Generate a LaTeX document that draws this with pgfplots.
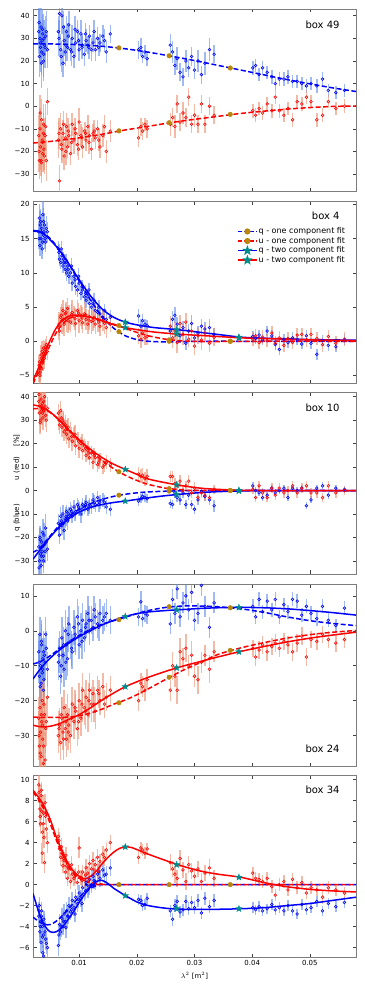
\documentclass[border=0pt]{standalone}
\usepackage{fontspec}
\setmainfont{DejaVu Sans}
\usepackage{pgfplots}
\usepackage{pgfplotstable}
\pgfplotsset{compat=1.18}

\definecolor{errblue}{RGB}{100,140,235}
\definecolor{errred}{RGB}{235,140,110}
\definecolor{gold}{RGB}{184,134,11}
\definecolor{teal2}{RGB}{0,139,139}
\definecolor{framegray}{RGB}{125,125,125}

% filled five-pointed star
\pgfdeclareplotmark{fstar}{%
  \pgfpathmoveto{\pgfqpointpolar{90}{\pgfplotmarksize}}%
  \pgfpathlineto{\pgfqpointpolar{126}{0.42\pgfplotmarksize}}%
  \pgfpathlineto{\pgfqpointpolar{162}{\pgfplotmarksize}}%
  \pgfpathlineto{\pgfqpointpolar{198}{0.42\pgfplotmarksize}}%
  \pgfpathlineto{\pgfqpointpolar{234}{\pgfplotmarksize}}%
  \pgfpathlineto{\pgfqpointpolar{270}{0.42\pgfplotmarksize}}%
  \pgfpathlineto{\pgfqpointpolar{306}{\pgfplotmarksize}}%
  \pgfpathlineto{\pgfqpointpolar{342}{0.42\pgfplotmarksize}}%
  \pgfpathlineto{\pgfqpointpolar{18}{\pgfplotmarksize}}%
  \pgfpathlineto{\pgfqpointpolar{54}{0.42\pgfplotmarksize}}%
  \pgfpathclose
  \pgfusepathqfillstroke}

\newcommand{\myytick}{\pgfmathtruncatemacro\tv{round(\tick)}\ifnum\tv<0 \char"2212\pgfmathtruncatemacro\tv{abs(\tv)}\fi\tv}

\tikzset{boxlab/.style={font=\fontsize{10}{12}\selectfont}}

\pgfplotsset{
  panel/.style={width=323pt, height=182pt, scale only axis, anchor=north west,
    xmin=0.002, xmax=0.058, xtick={0.01,0.02,0.03,0.04,0.05}, xticklabels={},
    scaled x ticks=false, scaled y ticks=false,
    axis line style={framegray, line width=0.8pt},
    tick style={black!75, line width=0.6pt}, major tick length=3.5pt,
    tick label style={font=\fontsize{7}{8}\selectfont},
    yticklabel={\myytick}},
  qdata/.style={only marks, mark=o, mark size=1.4pt, blue, mark options={line width=0.55pt},
    error bars/y dir=both, error bars/y explicit, error bars/error mark=none,
    error bars/error bar style={line width=1.5pt, errblue, opacity=0.6}},
  udata/.style={only marks, mark=o, mark size=1.4pt, red, mark options={line width=0.55pt},
    error bars/y dir=both, error bars/y explicit, error bars/error mark=none,
    error bars/error bar style={line width=1.5pt, errred, opacity=0.6}},
  qone/.style={blue, line width=1.5pt, dash pattern=on 5pt off 2.5pt, smooth, no marks},
  uone/.style={red, line width=1.5pt, dash pattern=on 5pt off 2.5pt, smooth, no marks},
  qtwo/.style={blue, line width=1.5pt, smooth, no marks},
  utwo/.style={red, line width=1.5pt, smooth, no marks},
  goldm/.style={only marks, mark=*, mark size=2.3pt, gold},
  starm/.style={only marks, mark=fstar, mark size=3.3pt, teal2}
}

% box 49
\pgfplotstableread{
x q qe u ue
0.0030 33 10 -13 9
0.0031 22 9 -24 8
0.0032 30 8 -10 9
0.0033 26 11 -18 10
0.0034 35 9 -24 7
0.0035 24 10 -6 9
0.0036 29 8 -15 8
0.0037 32 9 -21 8
0.0038 20 9 -12 9
0.0040 27 8 -22 8
0.0042 31 9 -9 10
0.0045 25 8 2 6
0.0064 33 7 -15 8
0.0066 41 9 -33 7
0.0068 25 7 -10 7
0.0070 40 8 -19 6
0.0072 19 6 -12 6
0.0074 29 7 -22 6
0.0076 24 6 -14 6
0.0078 33 7 -9 6
0.0080 26 6 -18 5
0.0082 36 6 -13 5
0.0085 25 5 -21 5
0.0088 30 6 -8 5
0.0091 22 5 -15 6
0.0094 28 6 -12 5
0.0097 33 5 -17 5
0.0100 25 5 -7 6
0.0103 32 6 -13 5
0.0106 27 5 -18 5
0.0109 23 5 -11 4
0.0112 29 5 -15 5
0.0115 27 4 -9 5
0.0118 31 5 -13 5
0.0121 25 5 -19 5
0.0124 28 4 -12 4
0.0128 25 5 -14 5
0.0132 30 5 -10 4
0.0136 28 4 -18 5
0.0141 31 5 -13 5
0.0147 24 5 -20 5
0.0154 32 4 -11 5
0.0203 25 4 -14 4
0.0207 26 4 -9 4
0.0210 22 3 -11 4
0.0214 24 3 -8 3
0.0218 21 3 -10 4
0.0258 27 5 -8 5
0.0262 24 5 -5 4
0.0266 18 4 -9 5
0.0270 21 5 1 4
0.0275 15 4 -7 4
0.0280 13 4 -3 5
0.0285 20 5 -5 4
0.0290 17 4 4 4
0.0295 22 4 -8 4
0.0300 16 4 -4 5
0.0306 20 5 -8 4
0.0312 14 4 1 4
0.0318 19 5 -8 4
0.0326 25 5 0 4
0.0334 23 4 -4 4
0.0401 17 3 -2 3
0.0406 18 3 -4 3
0.0412 14 3 -1 3
0.0418 17 3 -3 3
0.0426 15 3 1 3
0.0434 13 3 -2 3
0.0440 10 3 4 3
0.0447 12 3 -2 3
0.0455 12 3 -4 3
0.0462 13 3 -1 3
0.0470 11 3 -6 3
0.0478 11 3 2 3
0.0486 10 3 1 3
0.0494 9 3 4 3
0.0502 10 3 2 3
0.0512 9 3 -6 3
0.0522 12 3 -4 3
0.0532 7 3 2 3
0.0545 6 3 -1 3
0.0560 7 3 0 3
0.00305 37 10 -20 9
0.00325 28 9 -3 8
0.00345 19 11 -25 9
0.00365 34 9 -16 8
0.00385 23 10 -8 9
0.0039 30 8 -19 9
0.0041 26 9 -13 8
0.0043 33 9 -24 9
0.0065 30 8 -12 7
0.0069 22 7 -17 7
0.0073 35 7 -8 6
0.0077 27 7 -20 6
0.0081 31 6 -11 6
0.0087 24 6 -16 5
0.0093 34 6 -10 5
0.0099 29 5 -19 5
0.0105 26 5 -14 5
0.0111 32 5 -12 5
0.0117 26 5 -16 5
0.0126 33 5 -11 5
0.0134 26 4 -15 5
0.0144 29 5 -9 5
}\tA

% box 4
\pgfplotstableread{
x q qe u ue
0.0030 16 1.5 -4.5 1.5
0.0031 18 2 -3 1.2
0.0032 14 1.5 -5 1.5
0.0033 17.5 1.8 -3.8 1.3
0.0034 15 1.5 -2 1.5
0.0035 16.5 2 -4 1.2
0.0036 13.5 1.5 -1.5 1.5
0.0037 18.5 2 -3 1.3
0.0038 15.5 1.5 -1 1.2
0.0040 17 1.8 -2.5 1.5
0.0042 14.5 1.5 -0.8 1.2
0.0045 16 1.5 -1.5 1.2
0.0064 13.5 1.2 2.0 1.8
0.0066 12 1 1.5 2
0.0068 11.5 1 3.5 1.5
0.0070 12.5 1.2 3.0 2
0.0072 11 1 4.5 1.5
0.0074 11.5 1.2 2.5 1.8
0.0076 10.5 1 4.0 1.5
0.0078 10 1.2 3.2 1.8
0.0080 11 1 4.8 1.5
0.0082 9.5 1.2 3.5 1.8
0.0085 10 1 2.8 1.5
0.0088 8.5 1.2 4.2 1.8
0.0091 9.5 1 3.6 1.5
0.0094 8 1.2 2.6 2
0.0097 7.5 1 4.5 1.5
0.0100 8.5 1.2 3.0 1.8
0.0103 7 1 3.8 1.5
0.0106 7.5 1.2 2.7 1.5
0.0109 6.5 1 4.0 1.8
0.0112 6 1.2 3.2 1.5
0.0115 6.5 1 2.5 1.5
0.0118 5.5 1 3.6 1.5
0.0121 5 1.2 2.9 1.8
0.0124 5.5 1 3.0 1.5
0.0128 4.5 1.2 2.5 1.5
0.0132 4.2 1 3.2 1.8
0.0136 4 1.2 2.2 1.5
0.0141 3.5 1 3.0 1.5
0.0147 3.2 1 2.0 1.5
0.0154 3.5 1 2.5 1.2
0.0203 3.7 1 0.8 1.2
0.0207 2.2 1 0.3 1.3
0.0210 3.0 1 1.2 1.2
0.0214 2.5 0.8 0.5 1
0.0218 2.3 0.8 0.7 1.2
0.0258 1.5 1 2.2 1.5
0.0262 3.2 1.2 0.5 1.5
0.0266 3.8 1.2 1.5 1.3
0.0270 2.5 1 -0.2 1.5
0.0275 0.8 1 2.6 1.2
0.0280 2.0 1 1.0 1.5
0.0285 -0.3 1 2.8 1.3
0.0290 1.5 1 0.3 1.2
0.0295 2.6 1.2 1.5 1.5
0.0300 0.5 1 -0.7 1.3
0.0306 1.2 1 0.8 1.2
0.0312 2.2 1 0.2 1.5
0.0318 1.8 1 1.2 1.2
0.0326 2.0 1.2 -0.3 1.2
0.0334 1.0 1 0.6 1.3
0.0401 0.7 0.8 0.3 1
0.0406 0.4 0.8 0.8 1
0.0412 0.9 0.8 -0.2 1
0.0418 0.2 0.8 0.6 1
0.0426 1.5 0.8 0.1 1
0.0434 0.8 0.8 1.2 1
0.0440 -0.5 0.8 -0.3 1
0.0447 -1.2 0.8 0.5 1
0.0455 0.3 0.8 -0.6 1
0.0462 -0.2 0.8 0.4 1
0.0470 0.5 0.8 -0.2 1
0.0478 0.2 0.8 0.9 1
0.0486 -0.4 0.8 1.0 1
0.0494 0.8 0.8 0.2 1
0.0502 -0.3 0.8 1.0 1
0.0512 -1.9 0.8 0.4 1
0.0522 0.1 0.8 -0.5 1
0.0532 -0.6 0.8 0.7 1
0.0545 -0.8 0.8 -0.3 1
0.0560 0.2 0.8 0.3 1
0.00305 15 1.5 -3.5 1.5
0.00325 17 2 -4.5 1.3
0.00345 16 1.5 -2.5 1.5
0.00365 14.5 1.8 -3.2 1.2
0.00385 17.5 2 -1.8 1.4
0.0039 16 1.5 -2.2 1.3
0.0041 15 1.5 -1.2 1.2
0.0043 16.5 1.8 -0.5 1.3
0.0065 13 1.2 2.5 1.8
0.0069 13.5 1.2 3.8 1.6
0.0073 12 1 3.2 1.8
0.0077 11.5 1.2 4.2 1.5
0.0081 10.5 1 3.0 1.8
0.0087 11 1.2 3.9 1.5
0.0093 9 1 3.3 1.6
0.0099 9.5 1.2 4.1 1.5
0.0105 8 1 3.4 1.6
0.0111 7 1.2 3.9 1.5
0.0117 7.5 1 3.1 1.5
0.0126 6 1 3.5 1.5
0.0134 5 1 2.8 1.5
0.0144 4.5 1 2.6 1.5
}\tB

% box 10
\pgfplotstableread{
x q qe u ue
0.0030 -24 5 38 5
0.0031 -30 6 33 5
0.0032 -20 5 36 6
0.0033 -27 5 30 5
0.0034 -32 6 39 5
0.0035 -22 5 34 6
0.0036 -26 5 37 5
0.0037 -18 6 31 5
0.0038 -28 5 35 5
0.0040 -23 5 40 6
0.0042 -16 6 32 5
0.0045 -25 5 35 5
0.0064 -14 4 33 4
0.0066 -19 4 28 4
0.0068 -11 4 34 4
0.0070 -15 4 27 4
0.0072 -10 4 30 4
0.0074 -17 4 25 4
0.0076 -12 4 28 4
0.0078 -9 3 24 4
0.0080 -13 4 26 4
0.0082 -10 3 22 4
0.0085 -8 3 25 4
0.0088 -11 3 21 4
0.0091 -7 3 23 4
0.0094 -9 3 19 4
0.0097 -6 3 22 3
0.0100 -8 3 18 4
0.0103 -10 4 20 3
0.0106 -6 3 17 4
0.0109 -7 3 19 3
0.0112 -5 3 15 3
0.0115 -8 3 17 4
0.0118 -6 3 14 3
0.0121 -7 3 16 3
0.0124 -4 3 12 3
0.0128 -6 3 14 3
0.0132 -3 3 11 3
0.0136 -5 3 13 3
0.0141 -4 3 10 3
0.0147 -7 3 12 3
0.0154 -8 3 11 3
0.0203 -4.5 2 7 3
0.0207 -3.5 2 6 3
0.0210 -2.5 2 6.5 3
0.0214 -3 2 5 3
0.0218 -3.5 2 6 3
0.0258 -5.5 2 6 2.5
0.0262 -6 2 6 2.5
0.0266 -1 2 3 2.5
0.0270 -3 2 2 2
0.0275 -4 2 4 2.5
0.0280 -1 2 0 2.5
0.0285 -6 2 2 2
0.0290 -2 2 4 2.5
0.0295 -6 2 -1 2
0.0300 -8 2 1 2.5
0.0306 -4 2 -3 2
0.0312 -0.5 2 -1 2
0.0318 -2.5 2 -2 2.5
0.0326 -4 2 -3 2
0.0334 -6.5 2.5 0.5 2
0.0401 2 1.5 0.5 2
0.0406 0 1.5 -3 2
0.0412 -1 1.5 2 2
0.0418 -3 1.5 -1 2
0.0426 -2 1.5 -3 2
0.0434 1 1.5 1 2
0.0440 -1 1.5 -2 2
0.0447 0 1.5 1 2
0.0455 1 1.5 -1 2
0.0462 -3 1.5 0 2
0.0470 1 1.5 2 2
0.0478 0 1.5 -1 2
0.0486 1 1.5 1 2
0.0494 -6.5 1.5 2 2
0.0502 -4 1.5 -1 2
0.0512 1 1.5 -1 2
0.0522 2 1.5 -3 2
0.0532 -2 1.5 2 2
0.0545 1 1.5 -1 2
0.0560 0.5 1.5 0 2
0.00305 -33 6 41 5
0.00325 -21 5 29 5
0.00345 -28 5 36 6
0.00365 -24 6 33 5
0.00385 -30 5 38 5
0.0039 -19 5 34 5
0.0041 -26 5 36 6
0.0043 -22 5 30 5
0.0065 -16 4 30 4
0.0069 -13 4 31 4
0.0073 -14 4 29 4
0.0077 -11 4 26 4
0.0081 -11 3 27 4
0.0087 -9 3 23 4
0.0093 -10 3 24 4
0.0099 -7 3 21 4
0.0105 -8 3 21 3
0.0111 -6 3 18 3
0.0117 -7 3 16 3
0.0126 -5 3 15 3
0.0134 -6 3 12 3
0.0144 -5 3 11 3
}\tC

% box 24
\pgfplotstableread{
x q qe u ue
0.0030 -6 5 -25 6
0.0031 -13 6 -33 7
0.0032 -1 5 -22 6
0.0033 -10 6 -29 8
0.0034 -15 5 -36 7
0.0035 -4 6 -26 7
0.0036 -12 5 -20 6
0.0037 -8 6 -31 8
0.0038 -17 5 -38 7
0.0040 -7 5 -24 6
0.0042 -1 5 -28 7
0.0045 -11 5 -19 6
0.0064 -9 5 -30 5
0.0066 -5 5 -27 5
0.0068 -13 5 -32 5
0.0070 -2 6 -25 6
0.0072 -7 5 -29 5
0.0074 -11 5 -22 5
0.0076 0 6 -28 5
0.0078 -4 5 -31 5
0.0080 -8 5 -24 6
0.0082 2 5 -27 5
0.0085 -3 5 -30 5
0.0088 -6 5 -21 5
0.0091 1 5 -26 5
0.0094 -2 5 -23 5
0.0097 4 5 -28 5
0.0100 -4 4 -20 5
0.0103 0 5 -25 5
0.0106 3 5 -17 5
0.0109 -2 4 -22 5
0.0112 2 4 -19 5
0.0115 5 5 -24 5
0.0118 0 4 -17 5
0.0121 3 4 -21 5
0.0124 1 4 -18 4
0.0128 4 4 -23 5
0.0132 2 4 -17 4
0.0136 5 4 -20 4
0.0141 3 4 -16 4
0.0147 5 4 -19 4
0.0154 3 4 -17 4
0.0203 4 2.5 -20 3
0.0207 8.3 3 -15 3
0.0210 3.5 2.5 -16 3
0.0214 5 2.5 -17 3
0.0218 4.5 2.5 -14 3
0.0258 2 3 -17 3
0.0262 9 3 -10 4
0.0266 5 3 -13 3
0.0270 12 3 -17 4
0.0275 4 3 -6 4
0.0280 8 3 -8 3
0.0285 10 3 -5 4
0.0290 6 3 -10 3
0.0295 11 3 -7 4
0.0300 3 3 -13 3
0.0306 5 3 -14 4
0.0312 13 3 -9 3
0.0318 7 3 -7 3
0.0326 1 3 -11 4
0.0334 8 3 -6 3
0.0401 7 2 -5 2.5
0.0406 4 2 -7.5 2.5
0.0412 9 2 -5.5 2.5
0.0418 5.5 2 -4 2.5
0.0426 8.5 2 -6 2.5
0.0434 6 2 -4.5 2.5
0.0440 9 2 -3.5 2.5
0.0447 4 2 -5 2.5
0.0455 7.5 2 -3 2.5
0.0462 5.5 2 -4 2.5
0.0470 9 2 -6 2.5
0.0478 8.5 2 -3.5 2.5
0.0486 4.5 2 -1.5 2.5
0.0494 7 2 -7.5 2.5
0.0502 5 2 -2.5 2.5
0.0512 3.5 2 -3 2.5
0.0522 7 2 -1 2.5
0.0532 3 2 -2.5 2.5
0.0545 1.5 2 -3.5 2.5
0.0560 6.5 2 -2.5 2.5
0.00305 -9 6 -30 7
0.00325 -16 5 -35 8
0.00345 -3 6 -24 7
0.00365 -11 5 -27 7
0.00385 -6 6 -33 8
0.0039 -14 5 -21 6
0.0041 -9 5 -37 8
0.0043 -5 5 -26 7
0.0065 -7 5 -28 5
0.0069 -10 5 -24 5
0.0073 -4 5 -31 6
0.0077 -9 5 -26 5
0.0081 -1 5 -29 5
0.0087 -5 5 -25 5
0.0093 -1 5 -22 5
0.0099 2 5 -26 5
0.0105 -3 5 -21 5
0.0111 1 4 -23 5
0.0117 3 4 -20 5
0.0126 6 4 -21 5
0.0134 1 4 -18 4
0.0144 4 4 -21 4
}\tD

% box 34
\pgfplotstableread{
x q qe u ue
0.0030 -3.0 1 9.5 1
0.0031 -2.0 0.8 8.0 1
0.0032 -4.5 1 7.2 0.8
0.0033 -3.5 1 5.8 1
0.0034 -5.5 1 8.5 1
0.0035 -2.5 0.8 7.0 0.8
0.0036 -4.0 1 3.0 1
0.0037 -6.5 1 7.5 1
0.0038 -4.8 0.8 5.8 0.8
0.0040 -3.8 1 2.1 1
0.0042 -5.2 1 6.5 0.8
0.0045 -6.0 1 4.0 1
0.0064 -5.8 1 4.6 0.8
0.0066 -3.8 1 3.4 0.8
0.0068 -4.5 0.8 2.6 0.8
0.0070 -3.2 1 3.0 0.8
0.0072 -4.0 0.8 1.8 0.7
0.0074 -2.8 1 2.3 0.8
0.0076 -3.5 0.8 1.2 0.7
0.0078 -2.5 0.8 1.8 0.8
0.0080 -3.0 1 0.6 0.7
0.0082 -2.0 0.8 1.5 0.8
0.0085 -2.6 0.8 0.3 0.7
0.0088 -1.5 0.8 1.0 0.7
0.0091 -2.2 0.8 0.6 0.7
0.0094 -1.2 0.8 0.9 0.7
0.0097 -1.8 0.8 0.2 0.7
0.0100 -0.8 0.8 3.5 1
0.0103 -1.3 0.8 0.7 0.7
0.0106 -0.3 0.8 1.2 0.7
0.0109 -0.8 0.8 0.5 0.7
0.0112 0.2 0.8 1.6 0.8
0.0115 -0.5 0.8 1.1 0.7
0.0118 0.5 0.8 2.0 0.8
0.0121 0.0 0.8 1.5 0.7
0.0124 0.8 0.8 2.3 0.8
0.0128 0.3 0.8 1.9 0.7
0.0132 1.0 0.8 2.6 0.8
0.0136 0.6 0.8 2.2 0.7
0.0141 1.4 0.8 2.9 0.8
0.0147 1.0 0.8 3.3 0.7
0.0154 1.6 0.8 4.0 0.7
0.0203 -1.4 0.5 2.6 0.6
0.0207 -1.5 0.5 3.5 0.6
0.0210 -2.0 0.5 3.3 0.6
0.0214 -1.9 0.5 3.0 0.6
0.0218 -1.3 0.5 3.4 0.6
0.0258 -2.5 0.6 2.1 0.8
0.0262 -3.3 0.6 1.5 0.8
0.0266 -2.0 0.6 1.0 0.8
0.0270 -1.6 0.6 0.6 0.8
0.0275 -2.6 0.6 2.5 0.8
0.0280 -2.4 0.6 1.4 0.8
0.0285 -1.6 0.6 0.3 0.8
0.0290 -2.3 0.6 1.9 0.8
0.0295 -1.7 0.6 1.3 0.8
0.0300 -2.2 0.6 0.8 0.8
0.0306 -1.5 0.6 1.5 0.8
0.0312 -2.7 0.6 0.3 0.8
0.0318 -1.3 0.6 1.1 0.8
0.0326 -2.1 0.6 1.6 0.8
0.0334 -1.5 0.6 0.6 0.8
0.0401 -2.2 0.5 1.1 0.6
0.0406 -2.4 0.5 0.6 0.6
0.0412 -2.1 0.5 0.5 0.6
0.0418 -2.5 0.5 0.3 0.6
0.0426 -2.3 0.5 0.6 0.6
0.0434 -1.9 0.5 -0.2 0.6
0.0440 -2.4 0.5 -1.0 0.6
0.0447 -2.2 0.5 0.0 0.6
0.0455 -2.5 0.5 0.3 0.6
0.0462 -2.0 0.5 -0.5 0.6
0.0470 -2.5 0.5 0.5 0.6
0.0478 -2.8 0.5 -0.3 0.6
0.0486 -1.9 0.5 0.2 0.6
0.0494 -2.4 0.5 -0.8 0.6
0.0502 -2.2 0.5 -0.3 0.6
0.0512 -1.6 0.5 -0.5 0.6
0.0522 -2.5 0.5 -1.2 0.6
0.0532 -1.8 0.5 -0.3 0.6
0.0545 -2.1 0.5 -0.5 0.6
0.0560 -1.7 0.5 -0.8 0.6
0.00305 -2.5 0.8 8.8 1
0.00325 -4.0 1 6.5 1
0.00345 -3.0 1 9.0 0.8
0.00365 -5.0 1 5.0 1
0.00385 -6.8 1 6.8 1
0.0039 -3.3 0.8 4.5 1
0.0041 -4.5 1 7.8 0.8
0.0043 -5.6 1 5.3 1
0.0065 -4.8 1 4.2 0.8
0.0069 -4.0 1 3.6 0.8
0.0073 -3.5 1 2.5 0.8
0.0077 -4.1 1 2.8 0.8
0.0081 -3.0 0.8 1.6 0.7
0.0087 -2.4 0.8 1.9 0.8
0.0093 -2.8 0.8 0.8 0.7
0.0099 -1.4 0.8 1.2 0.7
0.0105 -1.8 0.8 0.4 0.7
0.0111 -0.6 0.8 0.9 0.7
0.0117 -0.2 0.8 0.4 0.7
0.0126 0.4 0.8 1.4 0.7
0.0134 1.2 0.8 1.3 0.8
0.0144 0.9 0.8 2.6 0.8
}\tE

\begin{document}
\begin{tikzpicture}
\useasboundingbox (0pt,0pt) rectangle (364pt,-987pt);

% ---- box 49 ----
\begin{axis}[panel, at={(33pt,-9pt)}, ymin=-37.5, ymax=43, ytick={-30,-20,...,40}]
\addplot[qdata] table[x=x, y=q, y error=qe] {\tA};
\addplot[udata] table[x=x, y=u, y error=ue] {\tA};
\addplot[qone] coordinates {(0.002,27.6)(0.006,27.5)(0.010,27.2)(0.014,26.5)(0.018,25.4)(0.022,23.9)(0.026,22.1)(0.030,20.2)(0.034,18.1)(0.038,16.0)(0.042,13.9)(0.046,11.8)(0.050,9.9)(0.054,8.1)(0.058,6.5)};
\addplot[uone] coordinates {(0.002,-16.3)(0.006,-15.3)(0.010,-14.0)(0.014,-12.4)(0.018,-10.5)(0.022,-8.9)(0.026,-7.2)(0.030,-5.8)(0.034,-4.5)(0.038,-3.2)(0.042,-2.2)(0.046,-1.3)(0.050,-0.6)(0.054,-0.1)(0.058,0.1)};
\addplot[goldm] coordinates {(0.0169,25.8)(0.0256,22.3)(0.0362,16.9)(0.0169,-10.9)(0.0256,-7.3)(0.0362,-3.6)};
\node[boxlab, anchor=east] at (rel axis cs:0.96,0.912) {box 49};
\end{axis}

% ---- box 4 ----
\begin{axis}[panel, at={(33pt,-201pt)}, ymin=-6.1, ymax=20.5, ytick={-5,0,...,20},
  legend style={at={(0.97,0.86)}, anchor=north east, draw=none, fill=none,
    font=\fontsize{8}{9}\selectfont, inner sep=0pt, row sep=0pt,
    nodes={inner sep=1pt}, legend cell align=left},
  legend image code/.code={\draw[mark repeat=2,mark phase=2] plot coordinates {(0pt,0pt)(9.5pt,0pt)(19pt,0pt)};}]
\addlegendimage{blue, line width=1.5pt, dash pattern=on 4pt off 2pt, mark=*, mark size=2.3pt, mark options={solid, gold}}
\addlegendimage{red, line width=1.5pt, dash pattern=on 4pt off 2pt, mark=*, mark size=2.3pt, mark options={solid, gold}}
\addlegendimage{blue, line width=1.5pt, mark=fstar, mark size=3.3pt, mark options={solid, teal2}}
\addlegendimage{red, line width=1.5pt, mark=fstar, mark size=3.3pt, mark options={solid, teal2}}
\addplot[qdata, forget plot] table[x=x, y=q, y error=qe] {\tB};
\addplot[udata, forget plot] table[x=x, y=u, y error=ue] {\tB};
\addplot[qone, forget plot] coordinates {(0.002,16.2)(0.003,16.1)(0.004,15.7)(0.005,15.0)(0.006,14.0)(0.007,12.9)(0.008,11.6)(0.009,10.2)(0.010,8.8)(0.012,6.0)(0.014,3.6)(0.016,1.9)(0.018,0.8)(0.020,0.25)(0.022,0.0)(0.025,-0.1)(0.028,-0.05)(0.032,0)(0.040,0)(0.058,0)};
\addplot[uone, forget plot] coordinates {(0.002,-6.2)(0.003,-4.4)(0.004,-2.4)(0.005,-0.5)(0.006,1.2)(0.007,2.4)(0.008,3.2)(0.009,3.6)(0.010,3.7)(0.012,3.5)(0.014,3.0)(0.016,2.5)(0.018,1.9)(0.020,1.3)(0.022,0.8)(0.025,0.3)(0.028,0.05)(0.032,-0.05)(0.040,0)(0.058,0)};
\addplot[qtwo, forget plot] coordinates {(0.002,16.1)(0.003,16.0)(0.004,15.6)(0.005,14.8)(0.006,13.9)(0.007,12.8)(0.008,11.6)(0.009,10.3)(0.010,9.0)(0.012,6.6)(0.014,4.7)(0.016,3.5)(0.018,2.8)(0.020,2.4)(0.023,2.0)(0.027,1.7)(0.031,1.3)(0.035,0.9)(0.038,0.6)(0.042,0.45)(0.046,0.35)(0.050,0.25)(0.054,0.2)(0.058,0.15)};
\addplot[utwo, forget plot] coordinates {(0.002,-5.8)(0.003,-3.8)(0.004,-1.8)(0.005,0.2)(0.006,1.9)(0.007,3.0)(0.008,3.6)(0.009,3.8)(0.010,3.8)(0.012,3.5)(0.014,3.0)(0.016,2.4)(0.018,2.0)(0.020,1.7)(0.023,1.35)(0.027,1.05)(0.031,0.85)(0.035,0.65)(0.038,0.5)(0.042,0.4)(0.046,0.3)(0.050,0.2)(0.054,0.15)(0.058,0.1)};
\addplot[goldm, forget plot] coordinates {(0.0169,1.4)(0.0256,0.0)(0.0362,0)(0.0169,2.3)(0.0256,0.2)(0.0362,0)};
\addplot[starm, forget plot] coordinates {(0.018,2.8)(0.0269,1.7)(0.0377,0.6)(0.018,2.0)(0.0269,1.05)(0.0377,0.5)};
\legend{q - one component fit, u - one component fit, q - two component fit, u - two component fit}
\node[boxlab, anchor=east] at (rel axis cs:0.96,0.918) {box 4};
\end{axis}

% ---- box 10 ----
\begin{axis}[panel, at={(33pt,-392pt)}, ymin=-35.6, ymax=42, ytick={-30,-20,...,40},
  ylabel={q (blue)\hspace{24pt}u (red)\hspace{10pt}[\%]},
  ylabel style={at={(rel axis cs:0,0.5)}, anchor=center, yshift=16pt, font=\fontsize{7}{8}\selectfont}]
\addplot[qdata] table[x=x, y=q, y error=qe] {\tC};
\addplot[udata] table[x=x, y=u, y error=ue] {\tC};
\addplot[qone] coordinates {(0.002,-26.3)(0.003,-25.0)(0.004,-22.3)(0.005,-19.3)(0.006,-16.4)(0.007,-13.8)(0.008,-11.5)(0.009,-9.6)(0.010,-8.0)(0.012,-5.6)(0.014,-3.8)(0.016,-2.5)(0.018,-1.6)(0.020,-1.0)(0.022,-0.6)(0.025,-0.3)(0.028,-0.1)(0.031,0)(0.058,0)};
\addplot[uone] coordinates {(0.002,34.8)(0.003,35.0)(0.004,34.5)(0.005,33.2)(0.006,31.3)(0.007,29.0)(0.008,26.5)(0.009,24.0)(0.010,21.5)(0.012,16.8)(0.014,12.8)(0.016,9.3)(0.018,6.5)(0.020,4.3)(0.022,2.6)(0.025,1.0)(0.028,0.3)(0.031,0)(0.058,0)};
\addplot[qtwo] coordinates {(0.002,-29.3)(0.003,-26.0)(0.004,-22.8)(0.005,-19.8)(0.006,-17.0)(0.007,-14.5)(0.008,-12.4)(0.009,-10.6)(0.010,-9.2)(0.012,-7.2)(0.014,-6.0)(0.016,-5.1)(0.018,-4.5)(0.020,-3.8)(0.022,-3.1)(0.025,-2.2)(0.028,-1.5)(0.031,-0.9)(0.034,-0.5)(0.038,-0.2)(0.042,-0.05)(0.058,0)};
\addplot[utwo] coordinates {(0.002,36.5)(0.003,36.0)(0.004,35.0)(0.005,33.4)(0.006,31.3)(0.007,28.8)(0.008,26.3)(0.009,23.9)(0.010,21.6)(0.012,17.5)(0.014,14.0)(0.016,11.2)(0.018,9.0)(0.020,6.9)(0.022,4.9)(0.025,3.3)(0.028,2.0)(0.031,1.0)(0.034,0.5)(0.038,0.1)(0.042,0)(0.058,0)};
\addplot[goldm] coordinates {(0.0169,-2.0)(0.0256,-0.25)(0.0362,0)(0.0169,8.0)(0.0256,0.8)(0.0362,0)};
\addplot[starm] coordinates {(0.018,-4.5)(0.0269,-1.7)(0.0377,-0.2)(0.018,9.0)(0.0269,2.4)(0.0377,0.1)};
\node[boxlab, anchor=east] at (rel axis cs:0.96,0.912) {box 10};
\end{axis}

% ---- box 24 ----
\begin{axis}[panel, at={(33pt,-584pt)}, ymin=-38.7, ymax=13.4, ytick={-30,-20,...,10}]
\addplot[qdata] table[x=x, y=q, y error=qe] {\tD};
\addplot[udata] table[x=x, y=u, y error=ue] {\tD};
\addplot[qone] coordinates {(0.002,-9.5)(0.003,-9.0)(0.004,-8.2)(0.005,-7.1)(0.006,-5.9)(0.007,-4.6)(0.008,-3.4)(0.009,-2.3)(0.010,-1.3)(0.012,0.5)(0.014,1.9)(0.016,2.9)(0.018,3.9)(0.020,4.9)(0.022,5.8)(0.025,6.7)(0.028,7.1)(0.031,7.1)(0.034,6.9)(0.038,6.3)(0.042,5.3)(0.046,4.0)(0.050,2.9)(0.054,2.1)(0.058,1.5)};
\addplot[uone] coordinates {(0.002,-24.7)(0.004,-24.8)(0.006,-24.8)(0.008,-24.7)(0.010,-24.3)(0.012,-23.5)(0.014,-22.4)(0.016,-21.0)(0.018,-19.8)(0.020,-18.3)(0.022,-16.6)(0.025,-13.9)(0.028,-11.3)(0.031,-9.1)(0.034,-6.8)(0.038,-4.9)(0.042,-3.4)(0.046,-2.1)(0.050,-1.1)(0.054,-0.4)(0.058,0.1)};
\addplot[qtwo] coordinates {(0.002,-13.8)(0.003,-11.5)(0.004,-9.5)(0.005,-7.8)(0.006,-6.3)(0.007,-5.0)(0.008,-3.8)(0.009,-2.7)(0.010,-1.7)(0.012,0.1)(0.014,1.7)(0.016,3.0)(0.018,4.1)(0.020,4.9)(0.022,5.4)(0.025,5.8)(0.028,6.1)(0.031,6.4)(0.034,6.6)(0.038,6.7)(0.042,6.6)(0.046,6.3)(0.050,5.8)(0.054,5.2)(0.058,4.5)};
\addplot[utwo] coordinates {(0.002,-27.0)(0.003,-27.4)(0.004,-27.5)(0.005,-27.3)(0.006,-26.9)(0.007,-26.3)(0.008,-25.5)(0.009,-24.8)(0.010,-24.0)(0.012,-22.0)(0.014,-19.8)(0.016,-17.8)(0.018,-16.0)(0.020,-14.6)(0.022,-13.3)(0.025,-11.6)(0.028,-10.1)(0.031,-8.8)(0.034,-7.5)(0.038,-5.9)(0.042,-4.5)(0.046,-3.2)(0.050,-2.1)(0.054,-1.2)(0.058,-0.4)};
\addplot[goldm] coordinates {(0.0169,3.2)(0.0256,6.9)(0.0362,6.6)(0.0169,-20.6)(0.0256,-13.3)(0.0362,-5.6)};
\addplot[starm] coordinates {(0.018,4.1)(0.0269,6.0)(0.0377,6.7)(0.018,-16.0)(0.0269,-10.6)(0.0377,-6.0)};
\node[boxlab, anchor=east] at (rel axis cs:0.96,0.093) {box 24};
\end{axis}

% ---- box 34 ----
\begin{axis}[panel, at={(33pt,-775pt)}, ymin=-6.9, ymax=10.45, ytick={-6,-4,...,10},
  xticklabels={0.01,0.02,0.03,0.04,0.05},
  xlabel={$\lambda^2$ [m$^2$]}, xlabel style={font=\fontsize{7}{8}\selectfont}]
\addplot[qdata] table[x=x, y=q, y error=qe] {\tE};
\addplot[udata] table[x=x, y=u, y error=ue] {\tE};
\addplot[qone] coordinates {(0.002,-3.1)(0.003,-3.5)(0.004,-3.8)(0.005,-3.8)(0.006,-3.5)(0.007,-3.0)(0.008,-2.4)(0.009,-1.8)(0.010,-1.2)(0.011,-0.7)(0.012,-0.35)(0.013,-0.1)(0.014,0)(0.058,0)};
\addplot[uone] coordinates {(0.002,8.8)(0.003,8.1)(0.004,7.1)(0.005,5.8)(0.006,4.3)(0.007,3.0)(0.008,1.9)(0.009,1.1)(0.010,0.6)(0.011,0.35)(0.012,0.2)(0.014,0.05)(0.016,0)(0.058,0)};
\addplot[qtwo] coordinates {(0.002,-0.85)(0.003,-2.6)(0.004,-3.9)(0.005,-4.5)(0.006,-4.5)(0.007,-4.1)(0.008,-3.4)(0.009,-2.6)(0.010,-1.7)(0.011,-0.9)(0.012,-0.2)(0.013,0.3)(0.014,0.4)(0.015,0.1)(0.016,-0.35)(0.017,-0.7)(0.018,-1.05)(0.019,-1.35)(0.020,-1.65)(0.022,-2.0)(0.025,-2.25)(0.028,-2.35)(0.031,-2.35)(0.034,-2.35)(0.038,-2.3)(0.042,-2.2)(0.046,-2.0)(0.050,-1.8)(0.054,-1.5)(0.058,-1.2)};
\addplot[utwo] coordinates {(0.002,9.0)(0.003,8.3)(0.004,7.4)(0.005,6.2)(0.006,4.6)(0.007,3.3)(0.008,2.1)(0.009,1.3)(0.010,0.8)(0.011,0.55)(0.012,0.8)(0.013,1.3)(0.014,2.0)(0.015,2.6)(0.016,3.1)(0.017,3.45)(0.018,3.6)(0.019,3.55)(0.020,3.35)(0.022,2.9)(0.025,2.3)(0.028,1.75)(0.031,1.3)(0.034,1.0)(0.038,0.7)(0.042,0.2)(0.046,-0.2)(0.050,-0.45)(0.054,-0.6)(0.058,-0.7)};
\addplot[goldm] coordinates {(0.0169,0)(0.0256,0)(0.0362,0)};
\addplot[starm] coordinates {(0.018,-1.05)(0.0269,-2.3)(0.0377,-2.3)(0.018,3.6)(0.0269,1.9)(0.0377,0.7)};
\node[boxlab, anchor=east] at (rel axis cs:0.96,0.918) {box 34};
\end{axis}
\end{tikzpicture}
\end{document}
